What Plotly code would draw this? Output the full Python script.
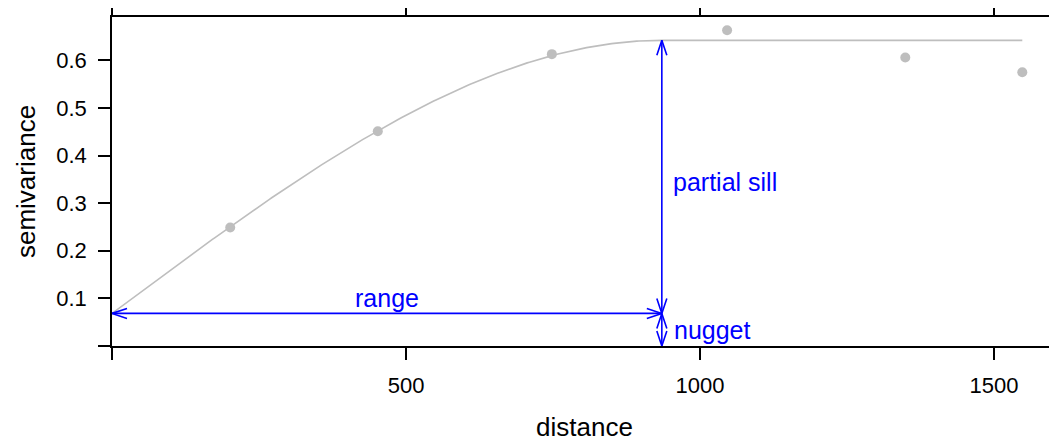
import numpy as np
import plotly.graph_objects as go

# empirical semivariogram
dist = [201, 452, 748, 1046, 1349, 1548]
gamma = [0.249, 0.451, 0.613, 0.663, 0.606, 0.575]

# fitted spherical model
nugget = 0.0685
psill = 0.5735
vrange = 935
maxdist = 1548

xticks = [0, 500, 1000, 1500]
xticklabels = ["", "500", "1000", "1500"]
yticks = [0, 0.1, 0.2, 0.3, 0.4, 0.5, 0.6]
yticklabels = ["", "0.1", "0.2", "0.3", "0.4", "0.5", "0.6"]

# page body has an 8px margin: shrink figure so it fills the 1057x439 window
W, H = 1049, 431
ML, MR, MT, MB = 104, 0, 9, 93
XR = [0, 1607]
YR = [0, 0.691]
kx = (XR[1] - XR[0]) / (W - ML - MR)
ky = (YR[1] - YR[0]) / (H - MT - MB)

h = np.linspace(0, maxdist, 400)
hr = np.minimum(h / vrange, 1.0)
model = nugget + psill * (1.5 * hr - 0.5 * hr ** 3)

sill = nugget + psill
BLUE = "#0000ff"
GREY = "#bebebe"
L, Wd = 15, 5  # arrow head length / half width (px)


def harrow(x0, x1, y):
    xs = [x0, x1, None,
          x0 + L * kx, x0, x0 + L * kx, None,
          x1 - L * kx, x1, x1 - L * kx, None]
    ys = [y, y, None,
          y + Wd * ky, y, y - Wd * ky, None,
          y + Wd * ky, y, y - Wd * ky, None]
    return xs, ys


def varrow(x, y0, y1):
    xs = [x, x, None,
          x - Wd * kx, x, x + Wd * kx, None,
          x - Wd * kx, x, x + Wd * kx, None]
    ys = [y0, y1, None,
          y0 + L * ky, y0, y0 + L * ky, None,
          y1 - L * ky, y1, y1 - L * ky, None]
    return xs, ys


ax, ay = [], []
for xs, ys in [harrow(0, vrange, nugget), varrow(vrange, nugget, sill), varrow(vrange, 0, nugget)]:
    ax += xs
    ay += ys

fig = go.Figure()
fig.add_trace(go.Scatter(x=h, y=model, mode="lines",
                         line=dict(color=GREY, width=1.6), hoverinfo="skip"))
fig.add_trace(go.Scatter(x=dist, y=gamma, mode="markers",
                         marker=dict(color=GREY, size=10, line=dict(width=0))))
fig.add_trace(go.Scatter(x=ax, y=ay, mode="lines",
                         line=dict(color=BLUE, width=1.6), hoverinfo="skip"))

FONT = "Liberation Sans, Arial, sans-serif"
fig.add_annotation(x=vrange / 2, y=nugget, text="range", showarrow=False,
                   yanchor="bottom", yshift=-1, font=dict(color=BLUE, size=25, family=FONT))
fig.add_annotation(x=vrange, y=0.344, text="partial sill", showarrow=False,
                   xanchor="left", xshift=9, font=dict(color=BLUE, size=25, family=FONT))
fig.add_annotation(x=vrange, y=nugget / 2, text="nugget", showarrow=False,
                   xanchor="left", xshift=10, font=dict(color=BLUE, size=25, family=FONT))
# x axis title
fig.add_annotation(x=0.5, y=0, xref="paper", yref="paper", text="distance",
                   showarrow=False, yanchor="middle", yshift=-81,
                   font=dict(color="black", size=26, family=FONT))

fig.update_layout(
    width=W, height=H,
    margin=dict(l=ML, r=MR, t=MT, b=MB),
    paper_bgcolor="white", plot_bgcolor="white",
    showlegend=False,
    font=dict(family=FONT, color="black", size=22),
    xaxis=dict(range=XR, tickvals=xticks, ticktext=xticklabels, automargin=False,
               showline=True, linecolor="black", linewidth=1.5, mirror="ticks",
               ticks="outside", ticklen=12, tickwidth=1.5, tickcolor="black",
               showgrid=False, zeroline=False, ticklabelstandoff=7,
               tickfont=dict(size=22)),
    yaxis=dict(range=YR, tickvals=yticks, ticktext=yticklabels, automargin=False,
               showline=True, linecolor="black", linewidth=1.5, mirror=False,
               ticks="outside", ticklen=12, tickwidth=1.5, tickcolor="black",
               showgrid=False, zeroline=False, ticklabelstandoff=7,
               tickfont=dict(size=22),
               title=dict(text="semivariance", font=dict(size=26), standoff=13)),
)

fig.write_html("out.html")
